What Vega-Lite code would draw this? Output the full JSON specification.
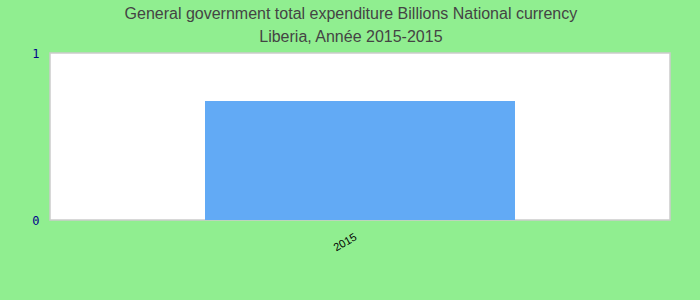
{
  "$schema": "https://vega.github.io/schema/vega-lite/v6.json",
  "autosize": "none",
  "width": 620,
  "height": 167,
  "padding": {"left": 50, "top": 53, "right": 30, "bottom": 80},
  "background": "#90EE90",
  "title": {
    "text": ["General government total expenditure Billions National currency", "Liberia, Année 2015-2015"],
    "font": "Liberation Sans",
    "fontSize": 16,
    "fontWeight": "normal",
    "color": "#444444",
    "lineHeight": 23,
    "anchor": "middle",
    "frame": "bounds",
    "offset": 2,
    "dx": 0
  },
  "config": {
    "view": {"fill": "white", "stroke": "#cccccc", "strokeWidth": 1.5}
  },
  "data": {"values": [{"year": "2015", "value": 0.713}]},
  "mark": {"type": "bar", "color": "#62aaf5"},
  "encoding": {
    "x": {
      "field": "year",
      "type": "nominal",
      "scale": {"paddingInner": 0, "paddingOuter": 0.5},
      "axis": {
        "title": null,
        "labelAngle": -30,
        "labelFont": "Liberation Sans",
        "labelFontSize": 11,
        "labelColor": "#000000",
        "ticks": false,
        "domain": false,
        "labelPadding": 11,
        "labelOffset": -7
      }
    },
    "y": {
      "field": "value",
      "type": "quantitative",
      "scale": {"domain": [0, 1]},
      "axis": {
        "title": null,
        "values": [0, 1],
        "format": "d",
        "grid": false,
        "ticks": false,
        "domain": false,
        "labelFont": "DejaVu Sans Mono",
        "labelFontSize": 12,
        "labelColor": "#00008B",
        "labelPadding": 11
      }
    }
  }
}
